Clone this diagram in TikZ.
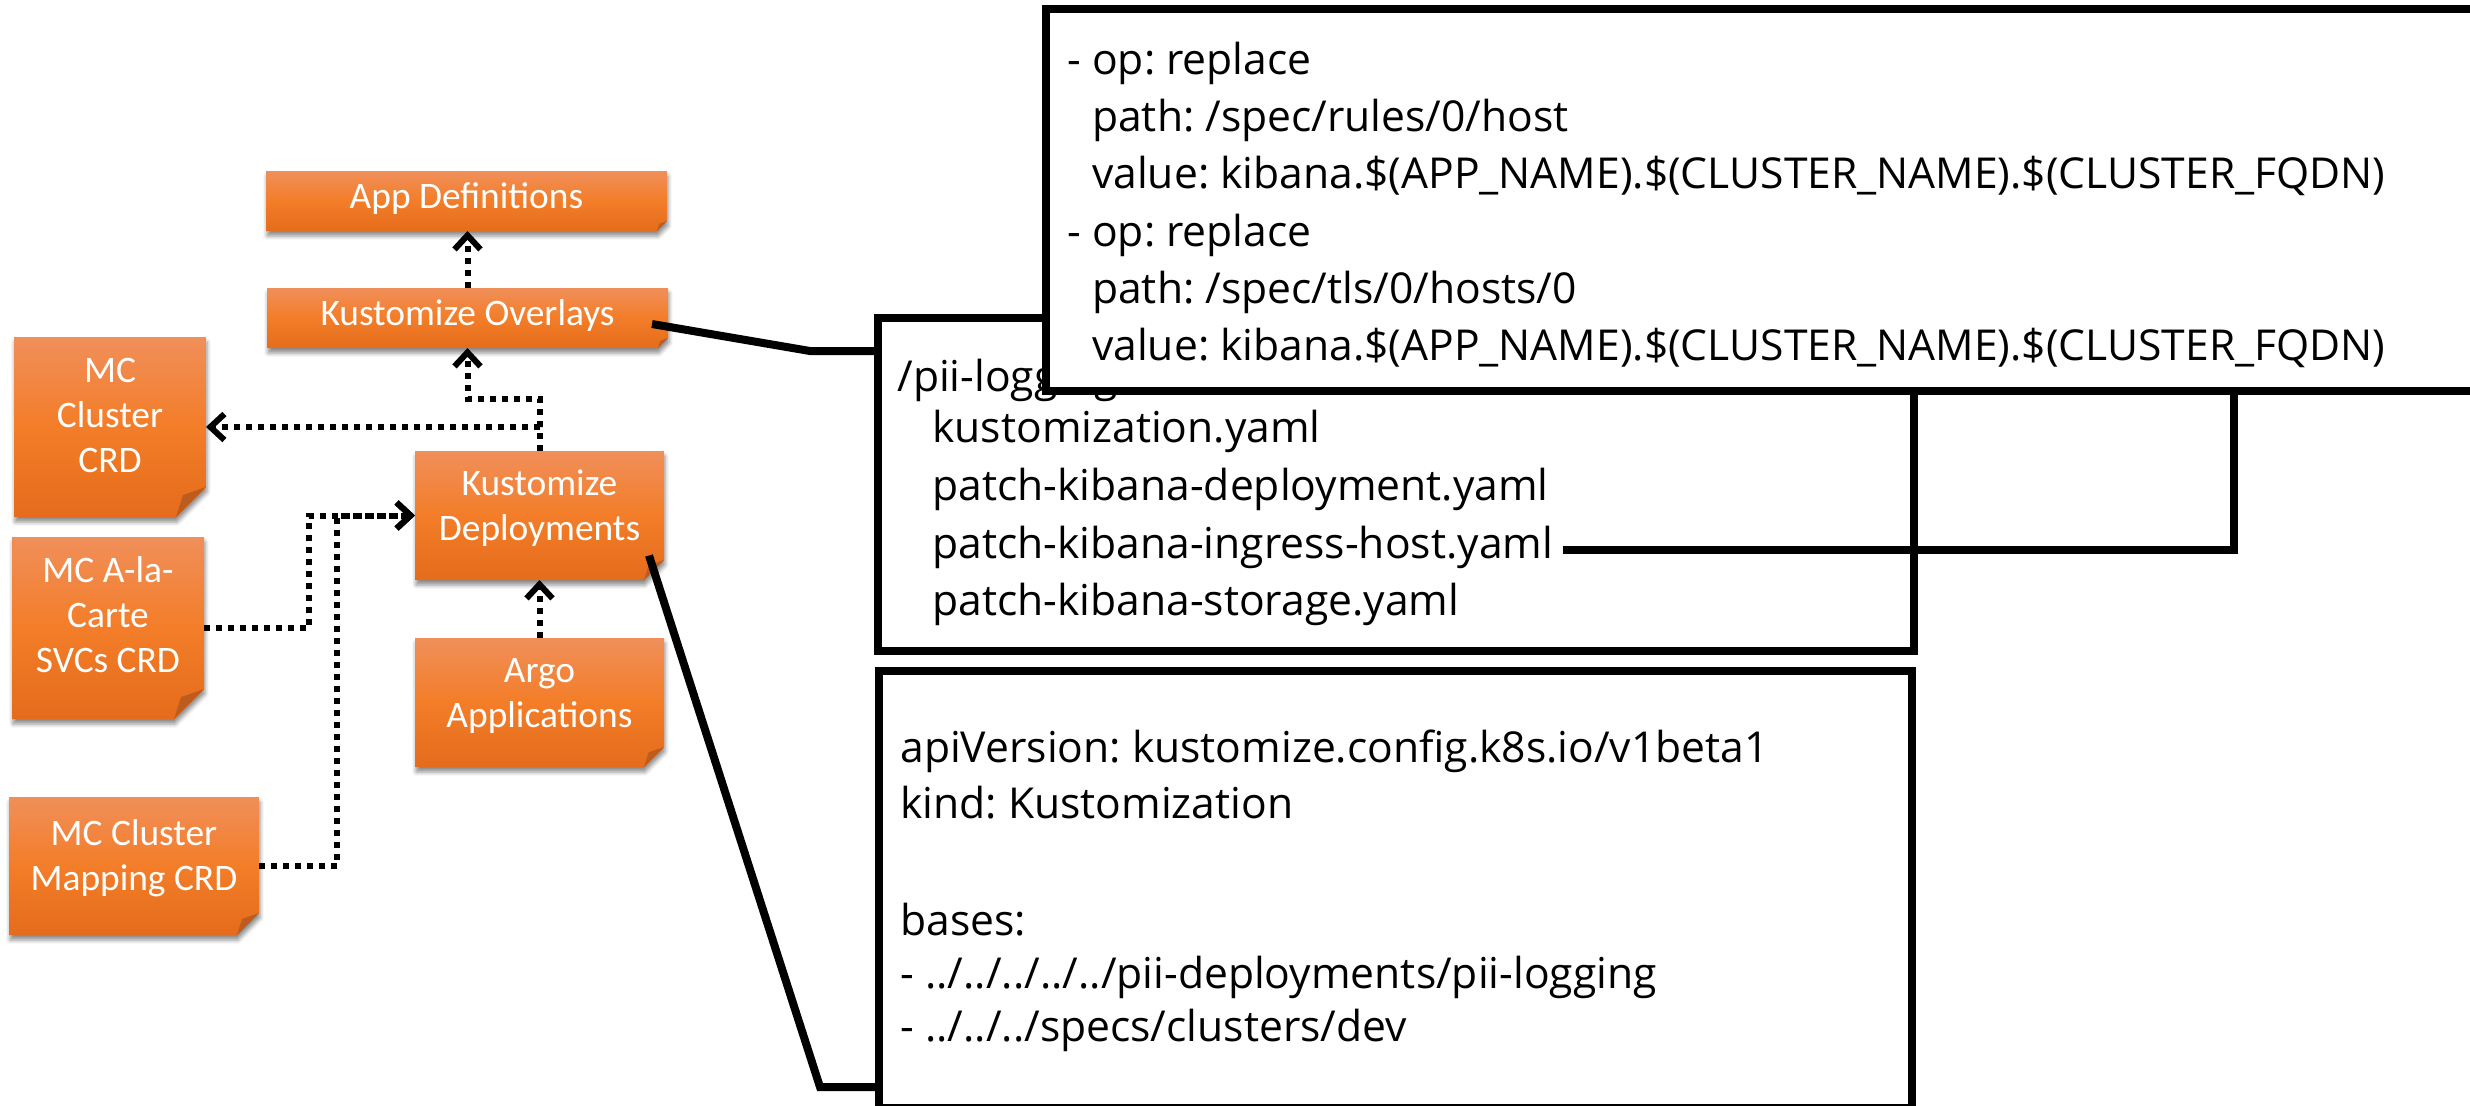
\documentclass[tikz,border=0pt]{standalone}
\usepackage{fontspec}
\setmainfont{Open Sans}
\newfontfamily\ofont{Carlito}
\usetikzlibrary{arrows.meta,shadows.blur,fit}
\frenchspacing

\definecolor{otop}{RGB}{240,143,90}
\definecolor{omid}{RGB}{243,125,40}
\definecolor{obot}{RGB}{228,108,28}
\definecolor{ofoldc}{RGB}{190,92,30}

\tikzset{
  oshade/.style={top color=otop, bottom color=obot, middle color=omid,
    blur shadow={shadow xshift=0.5pt, shadow yshift=-2.5pt, shadow blur radius=2pt, shadow opacity=45}},
  ofold/.style={fill=ofoldc},
  onode/.style={inner sep=0pt, outer sep=0pt, draw=none},
  otext/.style={text=white, font=\ofont\fontsize{18.7}{22.5}\selectfont, align=center, inner sep=0pt},
  dotconn/.style={line width=3pt, dash pattern=on 3pt off 3pt, -{Straight Barb[length=7pt,width=13pt]}},
  solidconn/.style={line width=4pt},
  codebox/.style={draw, line width=4pt, fill=white, inner sep=0pt, outer sep=0pt},
  codeline/.style={anchor=base west, inner sep=0pt, font=\fontsize{21.3}{25}\selectfont},
}

% #1 name, #2 x1, #3 y1, #4 x2, #5 y2, #6 fold, #7 text lift (px), #8 text
\newcommand\obox[8]{%
  \path[oshade] (#2,#3) -- (#4,#3) -- (#4,#5-#6) -- (#4-#6,#5) -- (#2,#5) -- cycle;
  \fill[ofold] (#4,#5-#6) -- (#4-#6,#5) -- (#4-0.77*#6,#5-0.73*#6) -- cycle;
  \node[fit={(#2,#3) (#4,#5)}, onode] (#1) {};
  \node[otext, yshift=#7*0.5pt] (#1t) at (#1.center) {#8};
}

\begin{document}
\begin{tikzpicture}[x=0.5pt, y=-0.5pt]
\useasboundingbox (0,0) rectangle (2470,1105);

% orange boxes
\obox{appdef}{266}{171}{667}{231}{10}{2}{App Definitions}
\obox{ov}{267}{288}{668}{348}{10}{2}{Kustomize Overlays}
\obox{mcc}{14}{337}{206}{517}{30}{12}{MC\\Cluster\\CRD}
\obox{dep}{415}{451}{664}{580}{20}{7}{Kustomize\\Deployments}
\obox{ala}{12}{537}{204}{719}{30}{13}{MC A-la-\\Carte\\SVCs CRD}
\obox{argo}{415}{638}{664}{767}{20}{6}{Argo\\Applications}
\obox{map}{9}{797}{259}{935}{22}{8}{MC Cluster\\Mapping CRD}

% dotted connectors
\draw[dotconn] (ov.north) -- (ov.north |- appdef.south);
\draw[dotconn] (dep.north) -- ++(0,-52) -| (ov.south);
\draw[dotconn] (dep.north) |- (mcc.east);
\draw[dotconn] (ala.east) -- ++(105,0) |- (dep.west);
\draw[dotconn] (map.east) -- ++(78,0) |- (dep.west);
\draw[dotconn] (argo.north) -- (dep.south);

% box A: directory listing
\node[codebox, minimum width=518pt, minimum height=166.5pt] (bA) at (1396,484.5) {};
\node[codeline] (a0) at (897,391) {/pii-logging};
\node[codeline] (a1) at (932,442) {kustomization.yaml};
\node[codeline] (a2) at (932,500) {patch-kibana-deployment.yaml};
\node[codeline] (a3) at (932,558) {patch-kibana-ingress-host.yaml};
\node[codeline] (a4) at (932,615) {patch-kibana-storage.yaml};

% box B: kustomization.yaml
\node[codebox, minimum width=516.5pt, minimum height=218.5pt] (bB) at (1395.5,889.5) {};
\node[codeline] (b1) at (900,762) {apiVersion: kustomize.config.k8s.io/v1beta1};
\node[codeline] (b2) at (900,818) {kind: Kustomization};
\node[codeline] (b3) at (900,935) {bases:};
\node[codeline] (b4) at (900,988) {- ../../../../../pii-deployments/pii-logging};
\node[codeline] (b5) at (900,1041) {- ../../../specs/clusters/dev};

% box C: patch
\node[codebox, minimum width=715pt, minimum height=191pt] (bC) at (1761,200) {};
\node[codeline] (c1) at (1067,74) {- op: replace};
\node[codeline] (c2) at (1067,131) {\phantom{- }path: /spec/rules/0/host};
\node[codeline] (c3) at (1067,188) {\phantom{- }value: kibana.\$(APP\_NAME).\$(CLUSTER\_NAME).\$(CLUSTER\_FQDN)};
\node[codeline] (c4) at (1067,246) {- op: replace};
\node[codeline] (c5) at (1067,303) {\phantom{- }path: /spec/tls/0/hosts/0};
\node[codeline] (c6) at (1067,360) {\phantom{- }value: kibana.\$(APP\_NAME).\$(CLUSTER\_NAME).\$(CLUSTER\_FQDN)};

% solid connectors
\coordinate (e1) at (810,351);
\draw[solidconn] ([shift={(-16,6)}]ov.east) -- (e1) -- (e1 -| bA.west);
\coordinate (e2) at (820,1087);
\draw[solidconn] ([shift={(-15,40)}]dep.east) -- (e2) -- (e2 -| bB.west);
\coordinate (e3) at (2234,550);
\draw[solidconn] ([shift={(10,-8)}]a3.base east) -- (e3) -- (e3 |- bC.south);
\end{tikzpicture}
\end{document}
